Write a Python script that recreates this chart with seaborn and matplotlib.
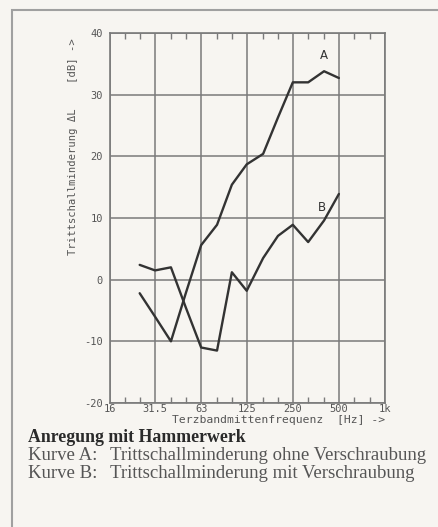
"""
Trittschallminderung - Anregung mit Hammerwerk
"""
import numpy as np
import pandas as pd
import matplotlib
matplotlib.use('Agg')
import matplotlib.pyplot as plt
import matplotlib.patches as patches
import seaborn as sns

"""
Data (third-octave band centre frequencies, dB)
"""
freqs = [25, 31.5, 40, 50, 63, 80, 100, 125, 160, 200, 250, 315, 400, 500]
curve_a = [-2.2, -6.0, -10.0, -2.2, 5.6, 8.9, 15.4, 18.7, 20.4, 26.3, 32.0, 32.0, 33.8, 32.7]
curve_b = [2.4, 1.5, 2.0, -4.5, -11.0, -11.5, 1.2, -1.8, 3.5, 7.1, 8.9, 6.1, 9.6, 13.9]

major_freqs = [16, 31.5, 63, 125, 250, 500, 1000]
major_labels = ['16', '31.5', '63', '125', '250', '500', '1k']
minor_freqs = [20, 25, 40, 50, 80, 100, 160, 200, 315, 400, 630, 800]
y_ticks = [-20, -10, 0, 10, 20, 30, 40]

df = pd.DataFrame({'f': freqs * 2,
                   'dL': curve_a + curve_b,
                   'Kurve': ['A'] * len(freqs) + ['B'] * len(freqs)})

"""
Figure
"""
sns.set_style('white')
plt.rcParams['axes.unicode_minus'] = False
bg = '#f7f5f1'
ink = '#333333'
grid_c = '#7a7a7a'

fig = plt.figure(figsize=(4.39, 5.27), dpi=100, facecolor=bg)
ax = fig.add_axes([110 / 439, 124 / 527, 275 / 439, 370 / 527])
ax.set_facecolor(bg)

sns.lineplot(data=df, x='f', y='dL', units='Kurve', estimator=None,
             color=ink, linewidth=1.7, ax=ax, legend=False)

ax.set_xscale('log', base=2)
ax.set_xlim(16, 1000)
ax.set_ylim(-20, 40)
ax.set_xticks(major_freqs)
ax.set_xticklabels(major_labels)
ax.set_xticks(minor_freqs, minor=True)
ax.set_xticklabels([], minor=True)
ax.set_yticks(y_ticks)

mono = 'DejaVu Sans Mono'
for lab in ax.get_xticklabels() + ax.get_yticklabels():
    lab.set_family(mono)
    lab.set_fontsize(7.5)
    lab.set_color('#555555')

ax.tick_params(axis='x', which='major', length=0, pad=1)
ax.tick_params(axis='x', which='minor', direction='in', length=4, width=1,
               color=grid_c, top=True, bottom=True)
ax.tick_params(axis='y', which='major', direction='out', length=4, width=1,
               color=grid_c, pad=1)

ax.grid(True, which='major', color=grid_c, linewidth=1.1)
for s in ax.spines.values():
    s.set_color(grid_c)
    s.set_linewidth(1.2)

ax.set_xlabel('')
ax.set_ylabel('')
ax.text(1.0, -0.033, 'Terzbandmittenfrequenz  [Hz] ->', transform=ax.transAxes,
        ha='right', va='top', fontsize=8.2, family=mono, color='#555555')
ax.text(73 / 439, 1 - 38 / 527, 'Trittschallminderung \u0394L    [dB] ->',
        transform=fig.transFigure, rotation=90, ha='center', va='top',
        fontsize=7.6, family=mono, color='#555555')

# curve labels
ax.text(400, 36.3, 'A', ha='center', va='center', fontsize=8.5, color=ink)
ax.text(385, 11.7, 'B', ha='center', va='center', fontsize=8.5, color=ink)

"""
Caption
"""
serif = 'Liberation Serif'
fig.text(28 / 439, 1 - 437 / 527, 'Anregung mit Hammerwerk', family=serif,
         fontweight='bold', fontsize=12.8, color='#2a2a2a', va='center')
fig.text(28 / 439, 1 - 456 / 527, 'Kurve A:', family=serif, fontsize=13.5,
         color='#555555', va='center')
fig.text(110 / 439, 1 - 456 / 527, 'Trittschallminderung ohne Verschraubung',
         family=serif, fontsize=13.5, color='#555555', va='center')
fig.text(28 / 439, 1 - 474 / 527, 'Kurve B:', family=serif, fontsize=13.5,
         color='#555555', va='center')
fig.text(110 / 439, 1 - 474 / 527, 'Trittschallminderung mit Verschraubung',
         family=serif, fontsize=13.5, color='#555555', va='center')

# frame around the figure
fig.patches.append(patches.Rectangle((12 / 439, -0.1), 1.2, 1.1 - 10 / 527,
                                     transform=fig.transFigure, fill=False,
                                     edgecolor='#a0a0a0', linewidth=1.5))

fig.savefig('out.png', dpi=100, facecolor=bg)
plt.close()
